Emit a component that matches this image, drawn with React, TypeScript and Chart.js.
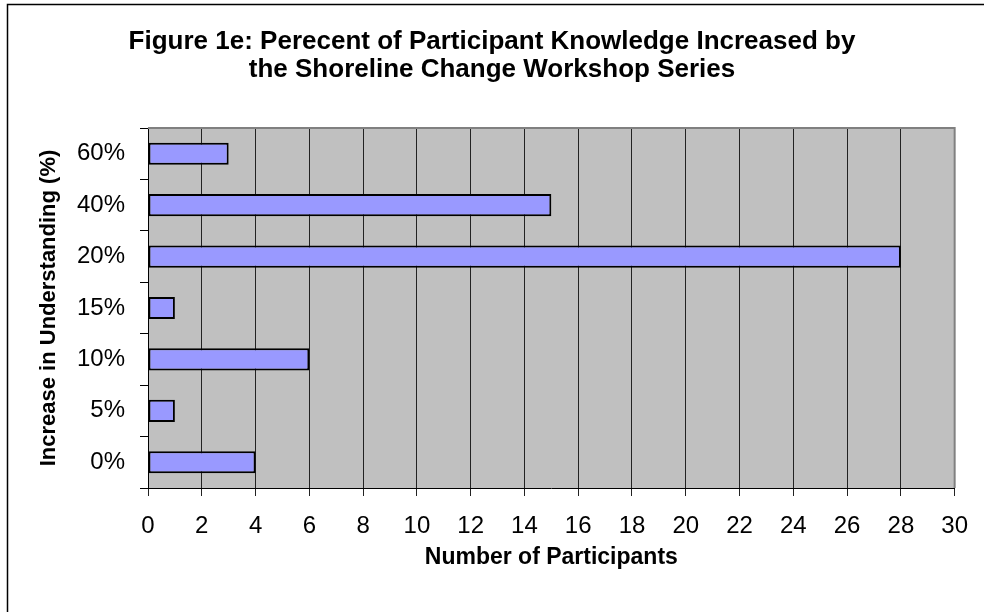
import React, { useEffect, useRef } from "react";
import { Chart, registerables } from "chart.js";

Chart.register(...registerables);

const categories = ["60%", "40%", "20%", "15%", "10%", "5%", "0%"];
const participants = [3, 15, 28, 1, 6, 1, 4];
const xMin = 0;
const xMax = 30;
const xStep = 2;
const titleLines = [
  "Figure 1e: Perecent of Participant Knowledge Increased by",
  "the Shoreline Change Workshop Series",
];
const xAxisTitle = "Number of Participants";
const yAxisTitle = "Increase in Understanding (%)";

const FONT = "'Liberation Sans', Arial, Helvetica, sans-serif";

const decorPlugin = {
  id: "decor",
  beforeDraw(chart: any) {
    const { ctx, chartArea } = chart;
    ctx.save();
    ctx.fillStyle = "#ffffff";
    ctx.fillRect(0, 0, chart.width, chart.height);
    ctx.fillStyle = "#c0c0c0";
    ctx.fillRect(
      chartArea.left,
      chartArea.top,
      chartArea.right - chartArea.left,
      chartArea.bottom - chartArea.top
    );
    ctx.restore();
  },
  afterDraw(chart: any) {
    const { ctx, chartArea } = chart;
    ctx.save();
    ctx.strokeStyle = "#808080";
    ctx.lineWidth = 2;
    ctx.beginPath();
    ctx.moveTo(chartArea.left, chartArea.top);
    ctx.lineTo(chartArea.right, chartArea.top);
    ctx.lineTo(chartArea.right, chartArea.bottom);
    ctx.stroke();
    ctx.strokeStyle = "#000000";
    ctx.lineWidth = 1.5;
    ctx.beginPath();
    ctx.moveTo(7.5, chart.height + 5);
    ctx.lineTo(7.5, 4.5);
    ctx.lineTo(chart.width + 5, 4.5);
    ctx.stroke();
    ctx.fillStyle = "#000000";
    ctx.font = "bold 26px " + FONT;
    ctx.textAlign = "center";
    ctx.textBaseline = "alphabetic";
    const cx = 492;
    ctx.fillText(titleLines[0], cx, 49);
    ctx.fillText(titleLines[1], cx, 77);
    ctx.restore();
  },
};

export default function App() {
  const canvasRef = useRef<HTMLCanvasElement | null>(null);

  useEffect(() => {
    if (!canvasRef.current) return;
    const chart = new Chart(canvasRef.current, {
      type: "bar",
      data: {
        labels: categories,
        datasets: [
          {
            data: participants,
            backgroundColor: "#9999ff",
            borderColor: "#000000",
            borderWidth: 2,
            borderSkipped: false,
            categoryPercentage: 1,
            barPercentage: 0.43,
          },
        ],
      },
      options: {
        indexAxis: "y",
        animation: false,
        responsive: false,
        devicePixelRatio: 1,
        layout: { padding: { top: 128, right: 28, left: 0, bottom: 0 } },
        plugins: {
          legend: { display: false },
          title: { display: false },
          tooltip: { enabled: false },
        },
        scales: {
          x: {
            type: "linear",
            min: xMin,
            max: xMax,
            ticks: {
              stepSize: xStep,
              color: "#000000",
              font: { family: FONT, size: 24 },
              padding: 16,
            },
            grid: {
              color: "#222222",
              lineWidth: 1,
              tickLength: 8,
              drawOnChartArea: true,
              drawTicks: true,
            },
            border: { display: true, color: "#000000", width: 1 },
            title: {
              display: true,
              text: xAxisTitle,
              color: "#000000",
              font: { family: FONT, size: 23, weight: "bold" },
              padding: { top: 0, bottom: 41 },
            },
            afterFit(scale: any) {
              scale.height = 124;
            },
          },
          y: {
            type: "category",
            ticks: {
              color: "#000000",
              font: { family: FONT, size: 24 },
              padding: 15,
            },
            grid: {
              offset: true,
              drawOnChartArea: false,
              drawTicks: true,
              tickLength: 8,
              color: "#000000",
            },
            border: { display: true, color: "#000000", width: 1 },
            title: {
              display: true,
              text: yAxisTitle,
              color: "#000000",
              font: { family: FONT, size: 22, weight: "bold" },
              padding: { top: 36, bottom: 0 },
            },
            afterFit(scale: any) {
              scale.width = 148;
            },
          },
        },
      },
      plugins: [decorPlugin],
    });
    return () => chart.destroy();
  }, []);

  return (
    <div style={{ position: "fixed", left: 0, top: 0, width: 984, height: 612 }}>
      <canvas ref={canvasRef} width={984} height={612} style={{ display: "block" }} />
    </div>
  );
}
